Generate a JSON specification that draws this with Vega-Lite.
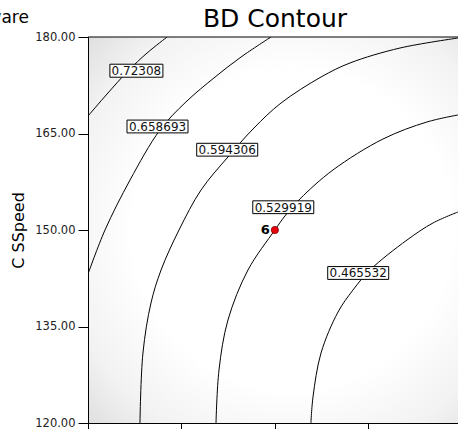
{
  "$schema": "https://vega.github.io/schema/vega-lite/v6.json",
  "width": 370,
  "height": 386,
  "autosize": {"type": "none"},
  "padding": {"left": 88, "top": 37, "right": 0, "bottom": 6},
  "background": "white",
  "title": {"text": "BD Contour", "font": "DejaVu Sans", "fontSize": 25, "fontWeight": "normal", "color": "#000", "anchor": "middle", "frame": "group", "offset": 0, "dy": 23, "dx": 2},
  "datasets": {
    "contours": [
      {"level": "0.72308", "i": 1, "x": 20.00, "y": 167.72},
      {"level": "0.72308", "i": 2, "x": 21.02, "y": 171.14},
      {"level": "0.72308", "i": 3, "x": 22.14, "y": 174.72},
      {"level": "0.72308", "i": 4, "x": 23.16, "y": 177.51},
      {"level": "0.72308", "i": 5, "x": 24.23, "y": 180.00},
      {"level": "0.658693", "i": 1, "x": 29.79, "y": 180.00},
      {"level": "0.658693", "i": 2, "x": 28.19, "y": 176.89},
      {"level": "0.658693", "i": 3, "x": 26.80, "y": 173.78},
      {"level": "0.658693", "i": 4, "x": 25.24, "y": 169.90},
      {"level": "0.658693", "i": 5, "x": 23.85, "y": 165.54},
      {"level": "0.658693", "i": 6, "x": 22.25, "y": 157.77},
      {"level": "0.658693", "i": 7, "x": 20.91, "y": 150.00},
      {"level": "0.658693", "i": 8, "x": 20.00, "y": 143.16},
      {"level": "0.594306", "i": 1, "x": 39.80, "y": 179.84},
      {"level": "0.594306", "i": 2, "x": 36.70, "y": 178.29},
      {"level": "0.594306", "i": 3, "x": 34.02, "y": 175.96},
      {"level": "0.594306", "i": 4, "x": 32.47, "y": 173.78},
      {"level": "0.594306", "i": 5, "x": 30.33, "y": 169.74},
      {"level": "0.594306", "i": 6, "x": 28.88, "y": 165.85},
      {"level": "0.594306", "i": 7, "x": 27.49, "y": 161.35},
      {"level": "0.594306", "i": 8, "x": 26.05, "y": 156.22},
      {"level": "0.594306", "i": 9, "x": 24.87, "y": 150.00},
      {"level": "0.594306", "i": 10, "x": 23.91, "y": 143.78},
      {"level": "0.594306", "i": 11, "x": 23.37, "y": 138.65},
      {"level": "0.594306", "i": 12, "x": 22.94, "y": 130.88},
      {"level": "0.594306", "i": 13, "x": 22.78, "y": 120.00},
      {"level": "0.529919", "i": 1, "x": 39.80, "y": 167.88},
      {"level": "0.529919", "i": 2, "x": 38.14, "y": 166.79},
      {"level": "0.529919", "i": 3, "x": 35.79, "y": 164.15},
      {"level": "0.529919", "i": 4, "x": 33.11, "y": 159.33},
      {"level": "0.529919", "i": 5, "x": 31.34, "y": 154.82},
      {"level": "0.529919", "i": 6, "x": 30.54, "y": 152.18},
      {"level": "0.529919", "i": 7, "x": 30.00, "y": 150.00},
      {"level": "0.529919", "i": 8, "x": 28.56, "y": 143.78},
      {"level": "0.529919", "i": 9, "x": 27.49, "y": 136.01},
      {"level": "0.529919", "i": 10, "x": 27.01, "y": 128.24},
      {"level": "0.529919", "i": 11, "x": 26.85, "y": 120.00},
      {"level": "0.465532", "i": 1, "x": 39.80, "y": 152.80},
      {"level": "0.465532", "i": 2, "x": 38.46, "y": 151.09},
      {"level": "0.465532", "i": 3, "x": 37.07, "y": 148.44},
      {"level": "0.465532", "i": 4, "x": 35.09, "y": 143.78},
      {"level": "0.465532", "i": 5, "x": 34.18, "y": 140.67},
      {"level": "0.465532", "i": 6, "x": 33.38, "y": 137.25},
      {"level": "0.465532", "i": 7, "x": 32.47, "y": 130.88},
      {"level": "0.465532", "i": 8, "x": 32.04, "y": 124.04},
      {"level": "0.465532", "i": 9, "x": 31.93, "y": 120.00}
    ],
    "labels": [
      {"label": "0.72308", "x": 22.59, "y": 174.76},
      {"label": "0.658693", "x": 23.72, "y": 166.09},
      {"label": "0.594306", "x": 27.45, "y": 162.48},
      {"label": "0.529919", "x": 30.45, "y": 153.54},
      {"label": "0.465532", "x": 34.46, "y": 143.32}
    ],
    "points": [{"n": "6", "x": 30, "y": 150}],
    "frame": [{"x": 20, "x2": 39.8, "y": 180}],
    "note": [{"text": "Design-Expert® Software", "x": 16.84, "y": 182.18}]
  },
  "encoding": {
    "x": {"field": "x", "type": "quantitative", "scale": {"domain": [20, 39.8], "nice": false, "zero": false},
      "axis": {"values": [20, 25, 30, 35, 40], "labels": false, "title": null}},
    "y": {"field": "y", "type": "quantitative", "scale": {"domain": [120, 180], "nice": false, "zero": false},
      "axis": {"values": [120, 135, 150, 165, 180], "format": ".2f", "title": "C SSpeed", "titlePadding": 8}}
  },
  "layer": [
    {
      "data": {"name": "contours"},
      "mark": {"type": "line", "color": "#000", "strokeWidth": 1, "interpolate": "catmull-rom", "clip": true},
      "encoding": {"detail": {"field": "level"}, "order": {"field": "i", "type": "quantitative"}}
    },
    {
      "data": {"name": "labels"},
      "transform": [{"filter": "datum.label !== '0.72308'"}],
      "mark": {"type": "point", "shape": "M-1,-0.21H1V0.21H-1Z", "size": 3721, "fill": "#fff", "stroke": "#000", "strokeWidth": 1, "opacity": 1, "fillOpacity": 1}
    },
    {
      "data": {"name": "labels"},
      "transform": [{"filter": "datum.label === '0.72308'"}],
      "mark": {"type": "point", "shape": "M-1,-0.245H1V0.245H-1Z", "size": 2809, "fill": "#fff", "stroke": "#000", "strokeWidth": 1, "opacity": 1, "fillOpacity": 1}
    },
    {
      "data": {"name": "labels"},
      "mark": {"type": "text", "font": "DejaVu Sans", "fontSize": 12, "color": "#111", "align": "center", "baseline": "middle", "dy": 0.5},
      "encoding": {"text": {"field": "label"}}
    },
    {
      "data": {"name": "points"},
      "mark": {"type": "point", "shape": "circle", "size": 52, "fill": "#e8000b", "stroke": "#7a0000", "strokeWidth": 0.8, "opacity": 1, "fillOpacity": 1}
    },
    {
      "data": {"name": "points"},
      "mark": {"type": "text", "font": "DejaVu Sans", "fontSize": 13, "fontWeight": "bold", "color": "#000", "align": "right", "baseline": "middle", "dx": -5},
      "encoding": {"text": {"field": "n"}}
    },
    {
      "data": {"name": "frame"},
      "mark": {"type": "rule", "color": "#000", "strokeWidth": 1},
      "encoding": {"x2": {"field": "x2"}}
    },
    {
      "data": {"name": "note"},
      "mark": {"type": "text", "font": "DejaVu Sans", "fontSize": 17, "color": "#000", "align": "right", "baseline": "alphabetic"},
      "encoding": {"text": {"field": "text"}}
    }
  ],
  "config": {
    "view": {
      "stroke": null,
      "fill": {"gradient": "radial", "x1": 0.55, "y1": 0.5, "r1": 0, "x2": 0.55, "y2": 0.5, "r2": 0.75,
        "stops": [{"offset": 0, "color": "#ffffff"}, {"offset": 0.55, "color": "#ffffff"}, {"offset": 0.8, "color": "#f2f2f2"}, {"offset": 1, "color": "#dcdcdc"}]}
    },
    "axis": {"grid": false, "domainColor": "#000", "tickColor": "#000", "tickSize": 10, "labelPadding": 3,
      "labelFont": "DejaVu Sans", "labelFontSize": 11.5, "labelColor": "#222",
      "titleFont": "DejaVu Sans", "titleFontSize": 16, "titleFontWeight": "normal", "titleColor": "#000"}
  }
}
